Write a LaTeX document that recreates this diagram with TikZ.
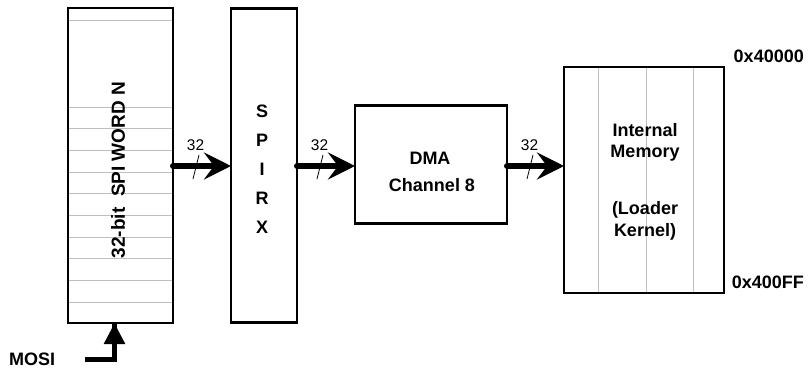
\documentclass[tikz,border=0pt]{standalone}
\usepackage{fontspec}
\setmainfont{Liberation Sans}
\usetikzlibrary{arrows.meta,calc}
\tikzset{
  blk/.style={draw=black, line width=2.8pt, inner sep=0pt, outer sep=0pt},
  grid/.style={draw=black!25, line width=0.9pt},
  bus/.style={line width=6pt, line cap=round, -{Stealth[length=27pt,width=27pt,inset=10pt]}},
  mosiline/.style={line width=5.5pt, -{Triangle[length=21pt,width=20pt]}},
  lbl/.style={font=\bfseries\fontsize{18}{21}\selectfont, inner sep=0pt},
  busw/.style={font=\fontsize{15.5}{18}\selectfont, inner sep=0pt},
  slash/.style={line width=0.8pt}
}
\begin{document}
\begin{tikzpicture}[x=1pt,y=-1pt]
\useasboundingbox (0,0) rectangle (808,372);
% grey lines in SPI word box
\foreach \yy in {20,107,128,150,172,193,215,237,258,280,302}
  \draw[grid] (68,\yy) -- (173,\yy);
% grey lines in memory
\foreach \xx in {598,646,693}
  \draw[grid] (\xx,67) -- (\xx,293);
% boxes
\node[blk, minimum width=105pt, minimum height=315pt] (word) at (120.5,165.5) {};
\node[blk, minimum width=66pt, minimum height=314pt] (spirx) at (264,165.5) {};
\node[blk, minimum width=152pt, minimum height=118pt] (dma) at (431,164.5) {};
\node[blk, minimum width=160pt, minimum height=226pt] (mem) at (644,180) {};
% texts
\node[lbl, rotate=90, font=\bfseries\fontsize{19}{21}\selectfont] (wordtxt) at (118,170) {32-bit\ \ SPI WORD N};
\node[lbl, anchor=base] (s1) at (262,117) {S};
\node[lbl, anchor=base] (s2) at (262,146.2) {P};
\node[lbl, anchor=base] (s3) at (262,175.4) {I};
\node[lbl, anchor=base] (s4) at (262,204.6) {R};
\node[lbl, anchor=base] (s5) at (262,233.8) {X};
\node[lbl, anchor=base] (dma1) at (430,164.5) {DMA};
\node[lbl, anchor=base] (dma2) at (432,191) {Channel 8};
\node[lbl, anchor=base] (m1) at (645,136.5) {Internal};
\node[lbl, anchor=base] (m2) at (645,157.5) {Memory};
\node[lbl, anchor=base] (m3) at (645,214.5) {(Loader};
\node[lbl, anchor=base] (m4) at (645,236.5) {Kernel)};
\node[lbl, anchor=base east] (a1) at (804,62.5) {0x40000};
\node[lbl, anchor=base east] (a2) at (804,288.5) {0x400FF};
\node[lbl, anchor=base west] (mosi) at (9,365.5) {MOSI};
% buses
\draw[bus] (word.east |- 0,166) -- (spirx.west |- 0,166);
\draw[bus] (spirx.east |- 0,166) -- (dma.west |- 0,166);
\draw[bus] (dma.east |- 0,166) -- (mem.west |- 0,166);
% bus width marks
\foreach \sx/\nm in {173/b1,297/b2,507/b3}{
  \node[busw] (\nm) at (\sx+22.5,145.5) {32};
  \draw[slash] (\sx+26,155) -- (\sx+20,179);
}
% MOSI input
\coordinate (mosistart) at (85,359.5);
\draw[mosiline] (mosistart) -| (114.5,324) -- (word.south -| 114.5,0);
\end{tikzpicture}
\end{document}
